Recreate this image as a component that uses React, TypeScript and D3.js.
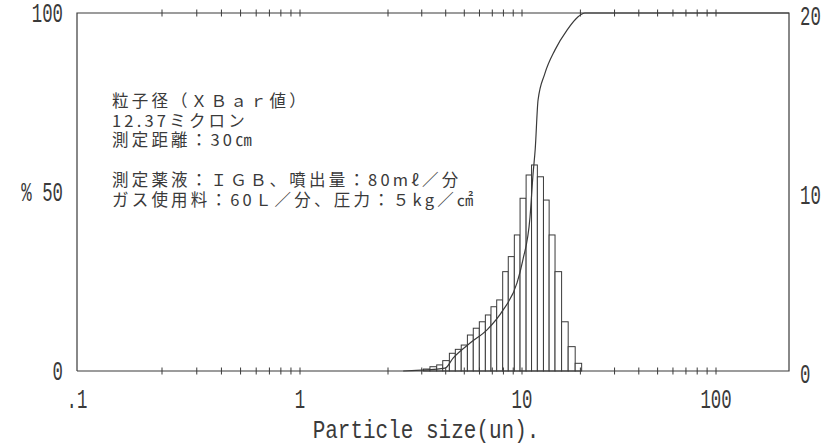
import React from 'react';
import * as d3 from 'd3';

const W = 827;
const H = 447;

// Histogram band edges (µm) and frequency (%)
const binEdges = [3.06, 3.31, 3.59, 3.86, 4.18, 4.49, 4.82, 5.19, 5.57, 5.99, 6.44, 6.89, 7.38, 7.93, 8.48, 9.12, 9.77, 10.5, 11.2, 12.0, 12.9, 13.8, 14.8, 16.0, 17.3, 18.8, 20.3];
const frequency = [0.11, 0.24, 0.34, 0.58, 0.99, 1.21, 1.45, 2.01, 2.39, 2.75, 3.13, 3.59, 3.97, 5.55, 6.39, 7.6, 9.65, 10.95, 11.51, 10.85, 9.55, 7.6, 5.55, 2.75, 1.36, 0.43];

// Cumulative undersize curve (%)
const cumSize = [2.4, 3.97, 4.37, 5.36, 6.57, 7.96, 9.42, 10.1, 11.0, 11.4, 11.7, 12.1, 13.1, 14.8, 17.1, 19.4, 21.1, 238];
const cumPct = [0, 0.8, 3.6, 7.8, 11.5, 17, 24.6, 31, 43, 55, 62, 75.7, 83, 89.7, 95.3, 98.9, 100, 100];

const xTicks = [0.2, 0.3, 0.4, 0.5, 0.6, 0.7, 0.8, 0.9, 1, 2, 3, 4, 5, 6, 7, 8, 9, 10, 20, 30, 40, 50, 60, 70, 80, 90, 100];
const xLabelValues = [0.1, 1, 10, 100];
const xLabelTexts = ['.1', '1', '10', '100'];
const leftValues = [0, 50, 100];
const leftTexts = ['0', '% 50', '100'];
const rightValues = [0, 10, 20];
const rightTexts = ['0', '10', '20'];

const noteLines = [
  '粒子径（ＸＢａｒ値）',
  '12.37ミクロン',
  '測定距離：30㎝',
  '',
  '測定薬液：ＩＧＢ、噴出量：80mℓ／分',
  'ガス使用料：60Ｌ／分、圧力：５kg／㎠',
];

const xTitle = 'Particle size(un).';

const L = 77, R = 789, T = 13, B = 371;

export default function App() {
  // piecewise log scale reproducing the printed axis
  const x = d3.scaleLog()
    .domain([0.1, 0.2, 1, 2, 10, 100, 238])
    .range([77, 162, 300, 388, 522, 716, R]);
  const yL = d3.scaleLinear().domain([0, 100]).range([B, T]);
  const yR = d3.scaleLinear().domain([0, 20]).range([B, T]);

  const line = d3.line<number>()
    .x((_, i) => x(cumSize[i]))
    .y((d) => yL(d))
    .curve(d3.curveMonotoneX);

  const ink = '#3a3a3a';
  const latin = "'Liberation Mono', monospace";

  return (
    <svg width={W} height={H} style={{ position: 'absolute', left: 0, top: 0, background: '#fff' }}>
      <rect x={0} y={0} width={W} height={H} fill="#fff" />
      {/* bars */}
      {frequency.map((f, i) => (
        <rect key={i}
          x={x(binEdges[i])}
          y={yR(f)}
          width={x(binEdges[i + 1]) - x(binEdges[i])}
          height={yR(0) - yR(f)}
          fill="#fff" stroke={ink} strokeWidth={1} />
      ))}
      {/* frame */}
      <path d={`M${L},${B}V${T}H${R}V${B}H${L}`} fill="none" stroke={ink} strokeWidth={1.2} />
      {/* ticks top and bottom */}
      {xTicks.map((t) => (
        <g key={t}>
          <line x1={x(t)} x2={x(t)} y1={B - 3.5} y2={B + 3.5} stroke={ink} strokeWidth={1} />
          <line x1={x(t)} x2={x(t)} y1={T - 3.5} y2={T + 3.5} stroke={ink} strokeWidth={1} />
        </g>
      ))}
      {/* cumulative curve */}
      <path d={line(cumPct) || ''} fill="none" stroke={ink} strokeWidth={1.2} />
      {/* x labels */}
      {xLabelValues.map((v, i) => (
        <text key={v} transform={`translate(${x(v)},${B + 37}) scale(0.62,1)`} textAnchor="middle"
          fontFamily={latin} fontSize={28} fill={ink}>{xLabelTexts[i]}</text>
      ))}
      {leftValues.map((v, i) => (
        <text key={v} transform={`translate(63,${yL(v) + 9}) scale(0.62,1)`} textAnchor="end"
          fontFamily={latin} fontSize={28} fill={ink}>{leftTexts[i]}</text>
      ))}
      {rightValues.map((v, i) => (
        <text key={v} transform={`translate(800,${yR(v) + 12}) scale(0.62,1)`} textAnchor="start"
          fontFamily={latin} fontSize={28} fill={ink}>{rightTexts[i]}</text>
      ))}
      <text transform={`translate(${(312 + 540) / 2},${438}) scale(0.84,1)`} textAnchor="middle"
        fontFamily={latin} fontSize={25} fill={ink}>{xTitle}</text>
      {/* annotation */}
      <foreignObject x={112} y={91} width={420} height={125}>
        <div style={{
          fontFamily: "'Noto Sans CJK JP', sans-serif", fontSize: '16.5px', letterSpacing: '3.2px',
          lineHeight: '19.7px', color: ink, whiteSpace: 'pre', margin: 0, padding: 0,
        }}>
          {noteLines.join('\n')}
        </div>
      </foreignObject>
    </svg>
  );
}
